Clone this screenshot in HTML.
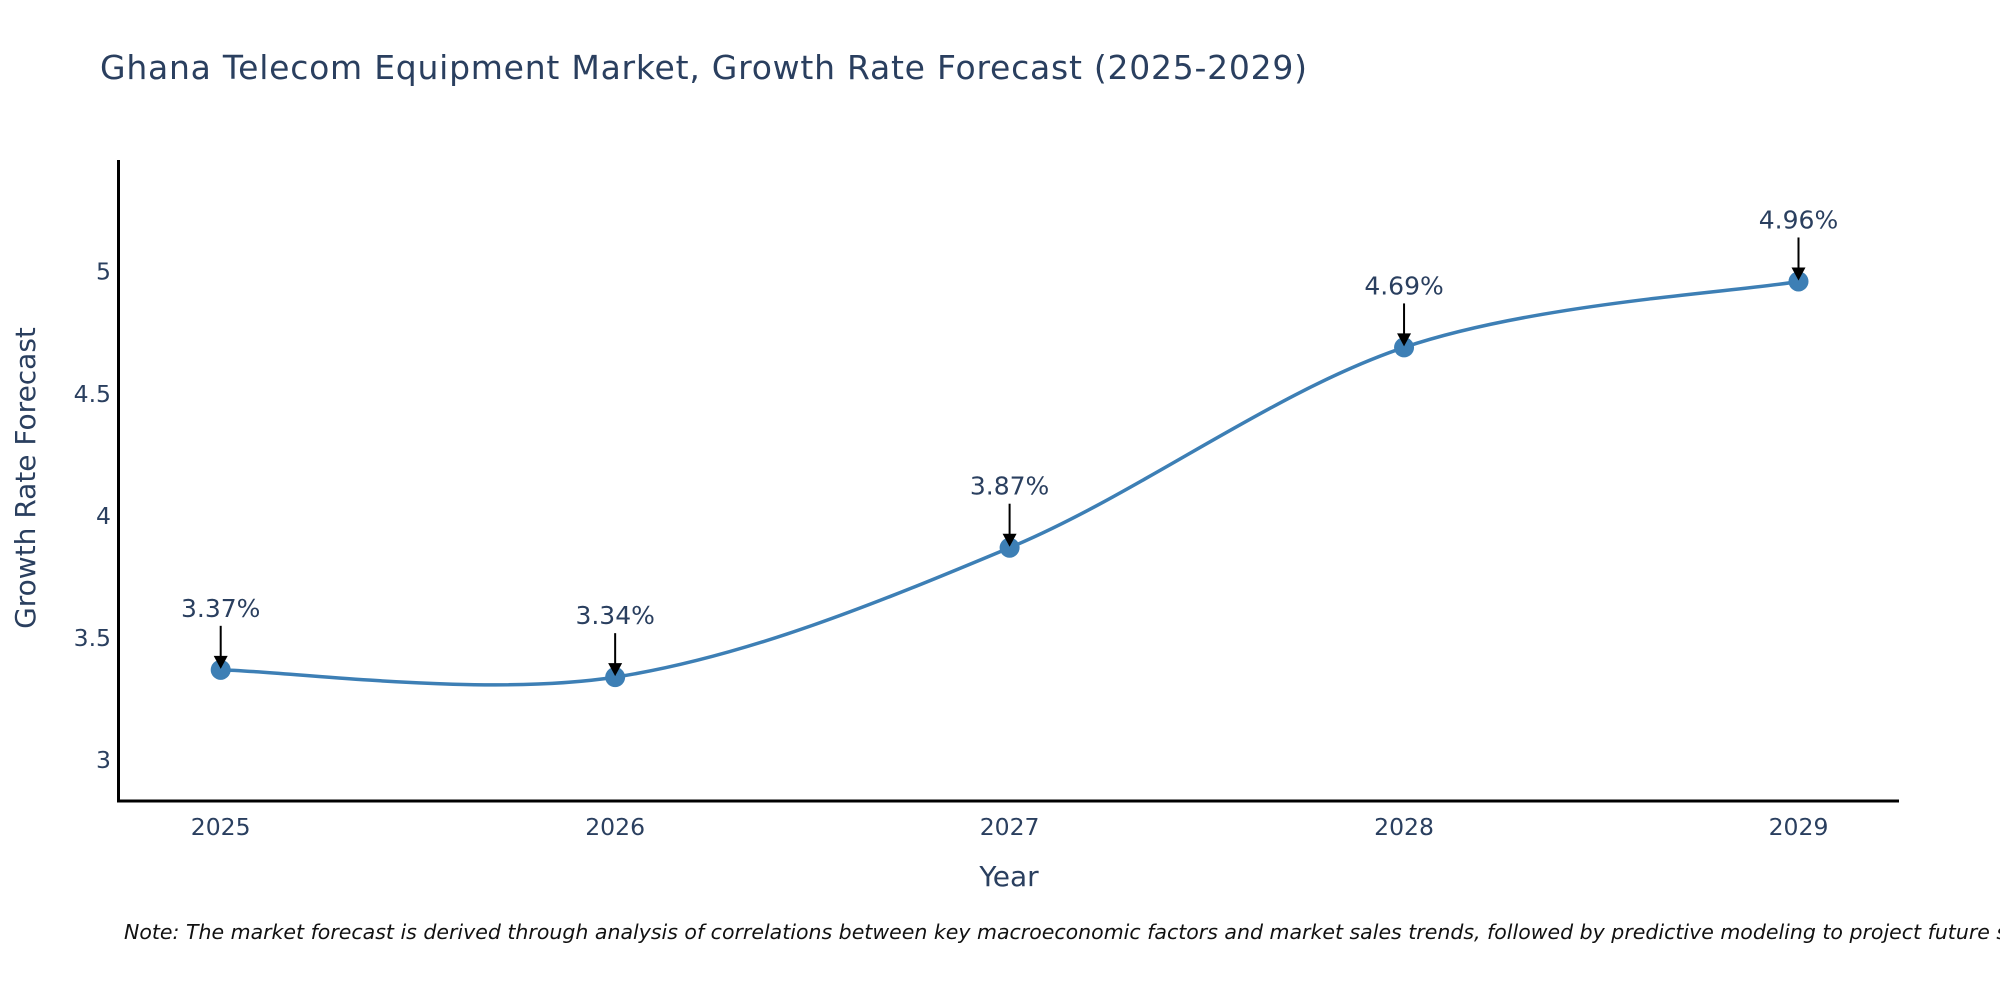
<!DOCTYPE html>
<html><head><meta charset="utf-8"><style>
body{margin:0;background:#fff;}
svg{display:block;font-family:"DejaVu Sans","Liberation Sans",sans-serif;}
</style></head><body>
<svg id="chart" width="2000" height="1000" viewBox="0 0 2000 1000">
<rect width="2000" height="1000" fill="#fff"/>
<text x="100" y="79" font-size="33" fill="#2a3f5f" textLength="1207">Ghana Telecom Equipment Market, Growth Rate Forecast (2025-2029)</text>
<g id="yticks"></g>
<g id="xticks"></g>
<line x1="118.5" y1="160" x2="118.5" y2="802" stroke="#000" stroke-width="3"/>
<line x1="117" y1="801" x2="1899" y2="801" stroke="#000" stroke-width="3"/>
<text x="1009" y="886" font-size="28" fill="#2a3f5f" text-anchor="middle">Year</text>
<text x="0" y="0" font-size="28" fill="#2a3f5f" text-anchor="middle" transform="translate(35,478) rotate(-90)">Growth Rate Forecast</text>
<path id="line" fill="none" stroke="#3d7fb5" stroke-width="3.5"/>
<g id="points"></g>
<g id="annots"></g>
<text x="124" y="939" font-size="20.5" font-style="italic" fill="#111">Note: The market forecast is derived through analysis of correlations between key macroeconomic factors and market sales trends, followed by predictive modeling to project future sales.</text>
</svg>
<script>
const years = [2025, 2026, 2027, 2028, 2029];
const rates = [3.37, 3.34, 3.87, 4.69, 4.96];
const yTickValues = [3, 3.5, 4, 4.5, 5];
const yTickLabels = ["3", "3.5", "4", "4.5", "5"];

const NS = "http://www.w3.org/2000/svg";
const x = v => 220.7 + (v - 2025) * 394.45;
const y = v => 760.2 - (v - 3) * 244.25;
function mk(tag, attrs, parent, text) {
  const e = document.createElementNS(NS, tag);
  for (const k in attrs) e.setAttribute(k, attrs[k]);
  if (text !== undefined) e.textContent = text;
  parent.appendChild(e);
  return e;
}
const yt = document.getElementById('yticks');
yTickValues.forEach((v, i) => {
  const t = mk('text', {x: 111, y: y(v) + 8, 'font-size': 23.5, fill: '#2a3f5f', 'text-anchor': 'end'}, yt, yTickLabels[i]);
  
  
});
const xt = document.getElementById('xticks');
years.forEach(v => {
  const t = mk('text', {x: x(v), y: 835, 'font-size': 23.5, fill: '#2a3f5f', 'text-anchor': 'middle'}, xt, String(v));
  
  
});
const pts = years.map((v, i) => [x(v), y(rates[i])]);
let d = `M${pts[0][0]},${pts[0][1]}`;
const tension = 0.5;
for (let i = 0; i < pts.length - 1; i++) {
  const p0 = pts[i - 1] || pts[i], p1 = pts[i], p2 = pts[i + 1], p3 = pts[i + 2] || pts[i + 1];
  const c1 = [p1[0] + (p2[0] - p0[0]) * tension / 3, p1[1] + (p2[1] - p0[1]) * tension / 3];
  const c2 = [p2[0] - (p3[0] - p1[0]) * tension / 3, p2[1] - (p3[1] - p1[1]) * tension / 3];
  d += ` C${c1[0]},${c1[1]} ${c2[0]},${c2[1]} ${p2[0]},${p2[1]}`;
}
document.getElementById('line').setAttribute('d', d);
const pg = document.getElementById('points');
const ag = document.getElementById('annots');
pts.forEach((p, i) => {
  const c = mk('circle', {cx: p[0], cy: p[1], r: 10, fill: '#3d7fb5'}, pg);
  
  
  const l = mk('line', {x1: p[0], y1: p[1] - 44, x2: p[0], y2: p[1] - 12, stroke: '#000', 'stroke-width': 2}, ag);
  
  
  const h = mk('path', {d: `M${p[0]-7},${p[1]-14} L${p[0]+7},${p[1]-14} L${p[0]},${p[1]-1} Z`, fill: '#000'}, ag);
  
  
  const t = mk('text', {x: p[0], y: p[1] - 53, 'font-size': 25, fill: '#2a3f5f', 'text-anchor': 'middle'}, ag, rates[i].toFixed(2) + '%');
  
  
});
</script>
</body></html>
